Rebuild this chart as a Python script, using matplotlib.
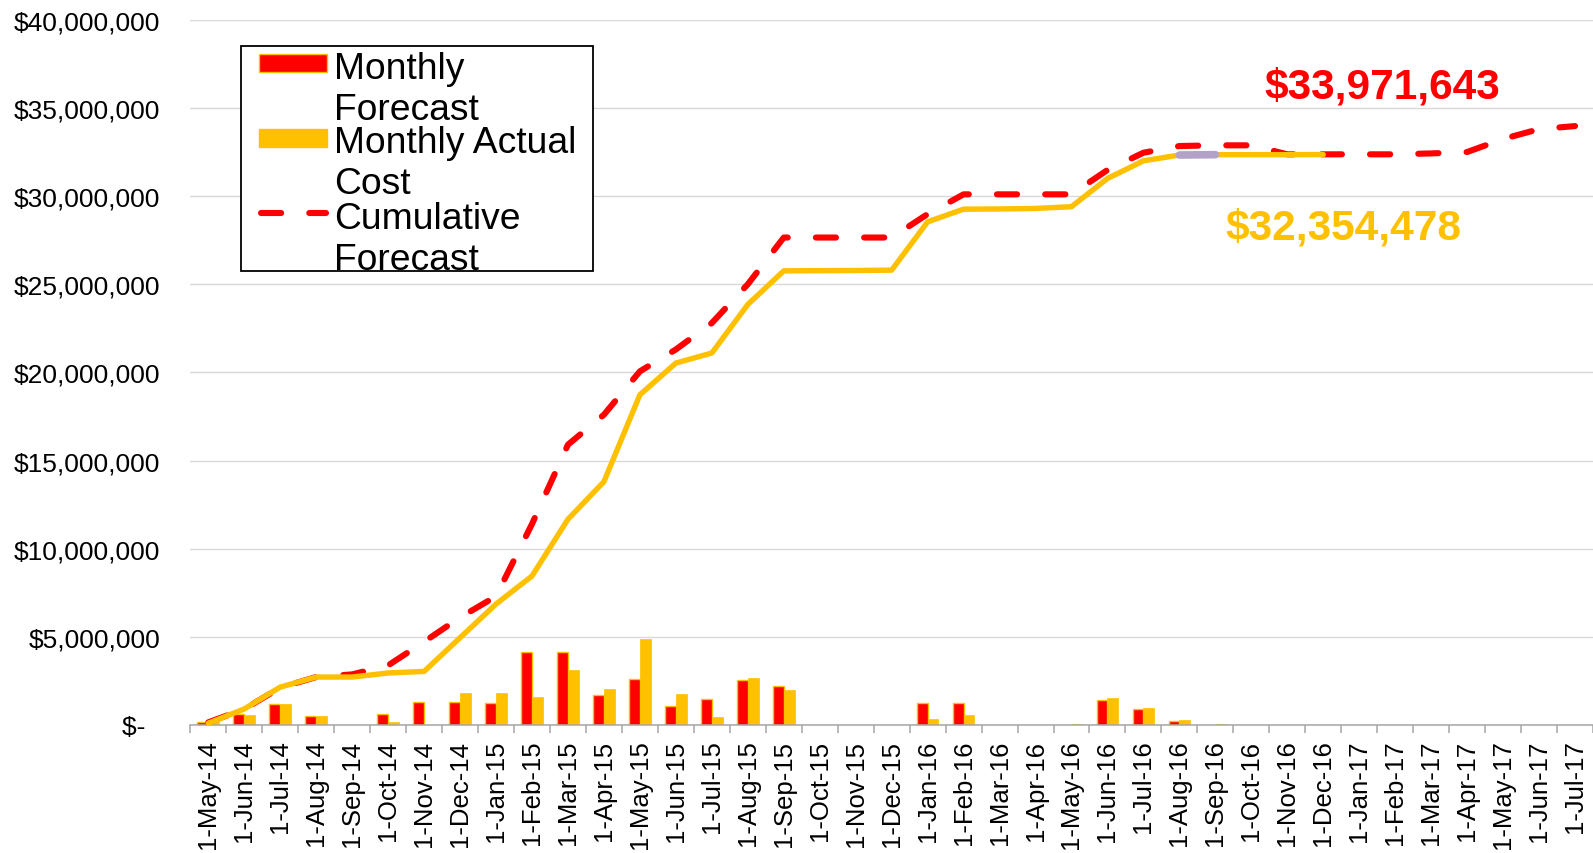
import numpy as np
import matplotlib
matplotlib.use('Agg')
import matplotlib.pyplot as plt
from matplotlib.patches import Rectangle
from matplotlib.lines import Line2D

plt.rcParams['font.family'] = ['Liberation Sans', 'DejaVu Sans']

# ---------------- data (values in $ millions) ----------------
months = ['1-May-14', '1-Jun-14', '1-Jul-14', '1-Aug-14', '1-Sep-14', '1-Oct-14', '1-Nov-14',
          '1-Dec-14', '1-Jan-15', '1-Feb-15', '1-Mar-15', '1-Apr-15', '1-May-15', '1-Jun-15',
          '1-Jul-15', '1-Aug-15', '1-Sep-15', '1-Oct-15', '1-Nov-15', '1-Dec-15', '1-Jan-16',
          '1-Feb-16', '1-Mar-16', '1-Apr-16', '1-May-16', '1-Jun-16', '1-Jul-16', '1-Aug-16',
          '1-Sep-16', '1-Oct-16', '1-Nov-16', '1-Dec-16', '1-Jan-17', '1-Feb-17', '1-Mar-17',
          '1-Apr-17', '1-May-17', '1-Jun-17', '1-Jul-17']

monthly_forecast = [0.15, 0.62, 1.19, 0.53, None, 0.62, 1.32, 1.32, 1.23, 4.15, 4.15, 1.68, 2.62,
                    1.05, 1.48, 2.53, 2.20, None, None, None, 1.25, 1.22, None, None, None,
                    1.39, 0.91, 0.25, None, None, None, None, None, None, None, None, None,
                    None, None]

monthly_actual = [0.17, 0.58, 1.19, 0.51, None, 0.19, 0.02, 1.81, 1.81, 1.57, 3.13, 2.04, 4.87,
                  1.77, 0.48, 2.68, 1.96, None, None, None, 0.32, 0.59, None, 0.02, 0.06,
                  1.54, 0.95, 0.30, 0.06, None, None, None, None, None, None, None, None,
                  None, None]

cumulative_forecast = [0.15, 0.90, 2.12, 2.72, 2.87, 3.38, 4.72, 6.10, 7.30, 11.40, 15.90, 17.60,
                       20.06, 21.30, 22.80, 25.00, 27.65, 27.65, 27.65, 27.65, 28.98, 30.10,
                       30.10, 30.10, 30.10, 31.48, 32.46, 32.84, 32.88, 32.88, 32.37, 32.37,
                       32.37, 32.37, 32.42, 32.50, 33.24, 33.80, 33.971643]

cumulative_actual = [0.10, 0.91, 2.15, 2.72, 2.72, 2.95, 3.04, 4.95, 6.86, 8.45, 11.67, 13.80,
                     18.73, 20.53, 21.10, 23.85, 25.76, 25.77, 25.78, 25.80, 28.54, 29.26,
                     29.27, 29.30, 29.40, 31.00, 32.00, 32.33, 32.35, 32.35, 32.35, 32.354478,
                     None, None, None, None, None, None, None]

cumulative_bridge = [None] * 27 + [32.33, 32.35] + [None] * 10

y_ticks = [0, 5, 10, 15, 20, 25, 30, 35, 40]
y_tick_labels = ['$-  ', '$5,000,000', '$10,000,000', '$15,000,000', '$20,000,000',
                 '$25,000,000', '$30,000,000', '$35,000,000', '$40,000,000']

forecast_total_label = '$33,971,643'
actual_total_label = '$32,354,478'
legend_labels = ['Monthly\nForecast', 'Monthly Actual\nCost', 'Cumulative\nForecast']

RED = '#FF0000'
GOLD = '#FFC000'
PURPLE = '#B3A2C7'


def arr(v):
    return np.array([np.nan if x is None else x for x in v], dtype=float) * 1e6


W, H = 1593, 854
fig = plt.figure(figsize=(W / 100, H / 100), dpi=100)
ax = fig.add_axes([190.3 / W, 1 - 726.0 / H, 1 - 190.3 / W, (726.0 - 20.8) / H])

x = np.arange(len(months))
bw = 0.30
ax.bar(x - bw / 2, arr(monthly_forecast), width=bw, color=RED, edgecolor=GOLD,
       linewidth=1.0, zorder=2)
ax.bar(x + bw / 2, arr(monthly_actual), width=bw, color=GOLD, edgecolor=GOLD,
       linewidth=0.5, zorder=2)

dash = (3.3, 4.6)
ax.plot(x, arr(cumulative_forecast), color=RED, lw=4.4, dashes=dash,
        dash_capstyle='round', solid_joinstyle='round', zorder=3)
ax.plot(x, arr(cumulative_actual), color=GOLD, lw=3.9, solid_joinstyle='round',
        solid_capstyle='round', zorder=4)
ax.plot(x, arr(cumulative_bridge), color=PURPLE, lw=5.5, solid_capstyle='round', zorder=5)

ax.set_xlim(-0.5, len(months) - 0.5)
ax.set_ylim(0, 40e6)
ax.set_yticks(np.array(y_ticks) * 1e6)
ax.set_yticklabels(y_tick_labels, fontsize=19)
ax.set_xticks(x)
ax.set_xticklabels(months, rotation=90, fontsize=18.5)
ax.set_xticks(np.arange(-0.5, len(months), 1.0), minor=True)
ax.tick_params(axis='x', which='major', length=0, pad=10.5)
ax.tick_params(axis='x', which='minor', length=6, width=1.1, color='#A6A6A6', direction='out')
ax.tick_params(axis='y', length=0, pad=21.5)

for s in ['top', 'right', 'left']:
    ax.spines[s].set_visible(False)
ax.spines['bottom'].set_color('#A6A6A6')
ax.spines['bottom'].set_linewidth(1.1)
ax.yaxis.grid(True, color='#D9D9D9', lw=1.0)
ax.set_axisbelow(True)

# total labels
ax.text(32.65, 36.2e6, forecast_total_label, color=RED, fontsize=30.5, fontweight='bold',
        ha='center', va='center', zorder=6)
ax.text(31.55, 28.2e6, actual_total_label, color=GOLD, fontsize=30.5, fontweight='bold',
        ha='center', va='center', zorder=6)


# ---------------- legend (drawn in figure pixel coordinates) ----------------
def fx(px):
    return px / W


def fy(py):
    return 1 - py / H


fig.patches.append(Rectangle((fx(241), fy(272)), (593 - 241) / W, (272 - 47) / H,
                             transform=fig.transFigure, facecolor='white',
                             edgecolor='black', linewidth=1.3, zorder=10))
fig.patches.append(Rectangle((fx(259), fy(73)), 68 / W, 18 / H, transform=fig.transFigure,
                             facecolor=RED, edgecolor=GOLD, linewidth=1.0, zorder=11))
fig.patches.append(Rectangle((fx(259), fy(148)), 68 / W, 18 / H, transform=fig.transFigure,
                             facecolor=GOLD, edgecolor=GOLD, linewidth=1.0, zorder=11))
fig.lines.append(Line2D([fx(260.5), fx(325.5)], [fy(214), fy(214)], transform=fig.transFigure,
                        color=RED, lw=4.4, dashes=dash, dash_capstyle='round', zorder=11))

# multi-line labels: va='baseline' anchors the last line's baseline
for lbl, base in zip(legend_labels, [120, 194, 270]):
    fig.text(fx(334), fy(base), lbl, fontsize=26.8, va='baseline', ha='left',
             linespacing=1.24, zorder=12)

fig.savefig('out.png', dpi=100)
